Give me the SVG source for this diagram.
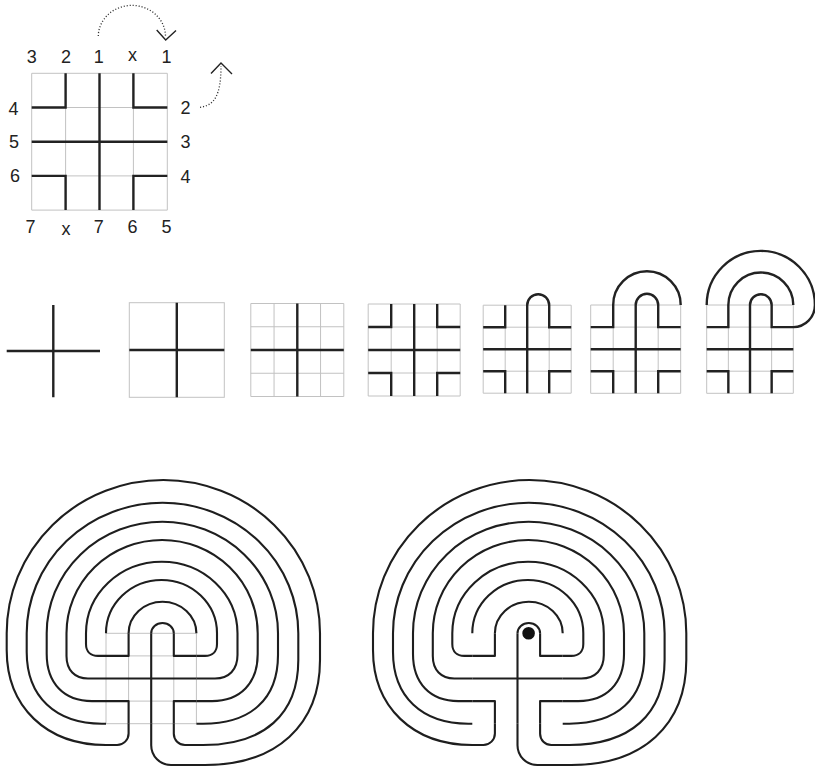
<svg xmlns="http://www.w3.org/2000/svg" width="815" height="769" viewBox="0 0 815 769">
<style>
.bg{fill:#fff}
.grid{fill:none;stroke:#c2c2c2;stroke-width:1}
.thick{fill:none;stroke:#222;stroke-width:2.4;stroke-linecap:butt;stroke-linejoin:miter}
.wall{fill:none;stroke:#1e1e1e;stroke-width:2.1;stroke-linecap:butt;stroke-linejoin:round}
.dots{fill:none;stroke:#333;stroke-width:1.3;stroke-dasharray:1.1 1.9}
.head{fill:none;stroke:#222;stroke-width:1.4}
.lbl{font-family:"Liberation Sans",Arial,sans-serif;font-size:18px;fill:#222;text-anchor:middle}
</style>
<defs>
<g id="walls">
<path class="wall" d="M151.2,633.3 A11.3,10.3 0 0 1 173.8,633.3"/>
<path class="wall" d="M128.6,633.3 A33.9,31.6 0 0 1 196.4,633.3"/>
<path class="wall" d="M106,633.3 A55.5,53.3 0 0 1 217,633.3 L217,644 C217,651.4 212.4,655.9 205,655.9 L196.4,655.9"/>
<path class="wall" d="M106,655.9 L98,655.9 C90.6,655.9 86,651.4 86,644 L86,633.3 A75.75,71.6 0 0 1 237.5,633.3 L237.5,655 C237.5,669.6 229,678.5 215,678.5 L196.4,678.5"/>
<path class="wall" d="M106,678.5 L88,678.5 C74.7,678.5 66.5,670 66.5,656 L66.5,633.3 A95.6,93.3 0 0 1 257.7,633.3 L257.7,654 C257.7,683.2 240.3,701.1 212,701.1 L196.4,701.1"/>
<path class="wall" d="M106,701.1 L92,701.1 C63.9,701.1 46.7,683.2 46.7,654 L46.7,633.3 A115.65,111.6 0 0 1 278,633.3 L278,655 C278,699 251,723.7 203,723.7 L196.4,723.7"/>
<path class="wall" d="M106,723.7 L102,723.7 C55.3,723.7 26.7,696.5 26.7,652 L26.7,633.3 A135.8,130.6 0 0 1 298.3,633.3 L298.3,660 C298.3,714.4 264,745 203,745 L185,745 A11.2,11.2 0 0 1 173.8,733.8 L173.8,723.7"/>
<path class="wall" d="M128.6,723.7 L128.6,733.5 A11.5,11.5 0 0 1 117.1,745 L106,745 C46.4,745 6.7,707 6.7,650 L6.7,633.3 A156.65,153.3 0 0 1 320,633.3 L320,660 C320,725.1 276.3,765 205,765 L171,765 A19.8,19.8 0 0 1 151.2,745.2 L151.2,723.7"/>
<path class="wall" d="M151.2,633.3V723.7 M106,678.5H196.4 M128.6,633.3V655.9H106 M173.8,633.3V655.9H196.4 M106,701.1H128.6V723.7 M196.4,701.1H173.8V723.7"/>
</g>
</defs>
<rect class="bg" x="0" y="0" width="815" height="769"/>

<g id="seed-diagram">
<path class="grid" d="M31.7,73.3H167.3M31.7,107.5H167.3M31.7,141.7H167.3M31.7,175.9H167.3M31.7,210.1H167.3M31.7,73.3V210.1M65.6,73.3V210.1M99.5,73.3V210.1M133.4,73.3V210.1M167.3,73.3V210.1"/>
<path class="thick" d="M99.5,73.3V210.1M31.7,141.7H167.3M65.6,73.3V107.5H31.7M133.4,73.3V107.5H167.3M31.7,175.9H65.6V210.1M167.3,175.9H133.4V210.1"/>
<text class="lbl" x="31.7" y="63.3">3</text>
<text class="lbl" x="66" y="63.3">2</text>
<text class="lbl" x="98.8" y="63.3">1</text>
<text class="lbl" x="132.5" y="61">x</text>
<text class="lbl" x="166.5" y="63.3">1</text>
<text class="lbl" x="13.5" y="114.5">4</text>
<text class="lbl" x="14" y="148.3">5</text>
<text class="lbl" x="15" y="182">6</text>
<text class="lbl" x="185.5" y="114">2</text>
<text class="lbl" x="185.5" y="148.3">3</text>
<text class="lbl" x="185.5" y="182.5">4</text>
<text class="lbl" x="30.5" y="233.3">7</text>
<text class="lbl" x="66" y="235">x</text>
<text class="lbl" x="98.8" y="233.3">7</text>
<text class="lbl" x="132.5" y="233.3">6</text>
<text class="lbl" x="166.5" y="233.3">5</text>
<path class="dots" d="M98.3,36 A33.5,31 0 0 1 165.5,37"/>
<path class="head" d="M156.7,30 L165.7,40 L176,30.5"/>
<path class="dots" d="M200,107.3 C214,105.5 221,96 221,66"/>
<path class="head" d="M211,73.5 L221,63 L232,74"/>
</g>

<g id="step-1">
<path class="thick" d="M6.7,351H100M53.3,305V397.3"/>
</g>

<g id="step-2">
<rect class="grid" x="129.3" y="302.7" width="95" height="94.6"/>
<path class="thick" d="M176.8,302.7V397.3M129.3,350H224.3"/>
</g>

<g id="step-3">
<path class="grid" d="M250.8,303.5H343.8M250.8,326.75H343.8M250.8,350H343.8M250.8,373.25H343.8M250.8,396.5H343.8M250.8,303.5V396.5M274.05,303.5V396.5M297.3,303.5V396.5M320.55,303.5V396.5M343.8,303.5V396.5"/>
<path class="thick" d="M297.3,303.5V396.5M250.8,350H343.8"/>
</g>

<g id="step-4">
<path class="grid" d="M368.2,304H460.2M368.2,327H460.2M368.2,350H460.2M368.2,373H460.2M368.2,396H460.2M368.2,304V396M391.2,304V396M414.2,304V396M437.2,304V396M460.2,304V396"/>
<path class="thick" d="M414.2,304V396M368.2,350H460.2M391.2,304V327H368.2M437.2,304V327H460.2M368.2,373H391.2V396M460.2,373H437.2V396"/>
</g>

<g id="step-5">
<path class="grid" d="M483.2,305.2H571.2M483.2,327.2H571.2M483.2,349.2H571.2M483.2,371.2H571.2M483.2,393.2H571.2M483.2,305.2V393.2M505.2,305.2V393.2M527.2,305.2V393.2M549.2,305.2V393.2M571.2,305.2V393.2"/>
<path class="thick" d="M527.2,393.2V305.2A11,11 0 0 1 549.2,305.2V327.2H571.2M483.2,349.2H571.2M505.2,305.2V327.2H483.2M483.2,371.2H505.2V393.2M571.2,371.2H549.2V393.2"/>
</g>

<g id="step-6">
<path class="grid" d="M590.7,305H680.7M590.7,327.1H680.7M590.7,349.2H680.7M590.7,371.2H680.7M590.7,393.3H680.7M590.7,305V393.3M613.2,305V393.3M635.7,305V393.3M658.2,305V393.3M680.7,305V393.3"/>
<path class="thick" d="M635.7,393.3V305A11.25,11.25 0 0 1 658.2,305V327.1H680.7M590.7,327.1H613.2V305A33.75,33.75 0 0 1 680.7,305M590.7,349.2H680.7M590.7,371.2H613.2V393.3M680.7,371.2H658.2V393.3"/>
</g>

<g id="step-7">
<path class="grid" d="M706.7,305H793.3M706.7,327.1H793.3M706.7,349.2H793.3M706.7,371.2H793.3M706.7,393.3H793.3M706.7,305V393.3M728.35,305V393.3M750,305V393.3M771.65,305V393.3M793.3,305V393.3"/>
<path class="thick" d="M750,393.3V305A10.825,10.825 0 0 1 771.65,305V327.1H793.3C805.3,327.1 814.9,317.2 814.9,305A54.1,54.1 0 0 0 706.7,305M706.7,327.1H728.35V305A32.475,32.475 0 0 1 793.3,305M706.7,349.2H793.3M706.7,371.2H728.35V393.3M793.3,371.2H771.65V393.3"/>
</g>

<g id="labyrinth-left">
<path class="grid" d="M106,633.3H196.4M106,655.9H196.4M106,678.5H196.4M106,701.1H196.4M106,723.7H196.4M106,633.3V723.7M128.6,633.3V723.7M151.2,633.3V723.7M173.8,633.3V723.7M196.4,633.3V723.7"/>
<use href="#walls"/>
</g>

<g id="labyrinth-right">
<use href="#walls" transform="translate(366.3,0)"/>
<circle cx="528.6" cy="633.3" r="7.4" fill="#111" stroke="#fff" stroke-width="2.2"/>
</g>
</svg>
